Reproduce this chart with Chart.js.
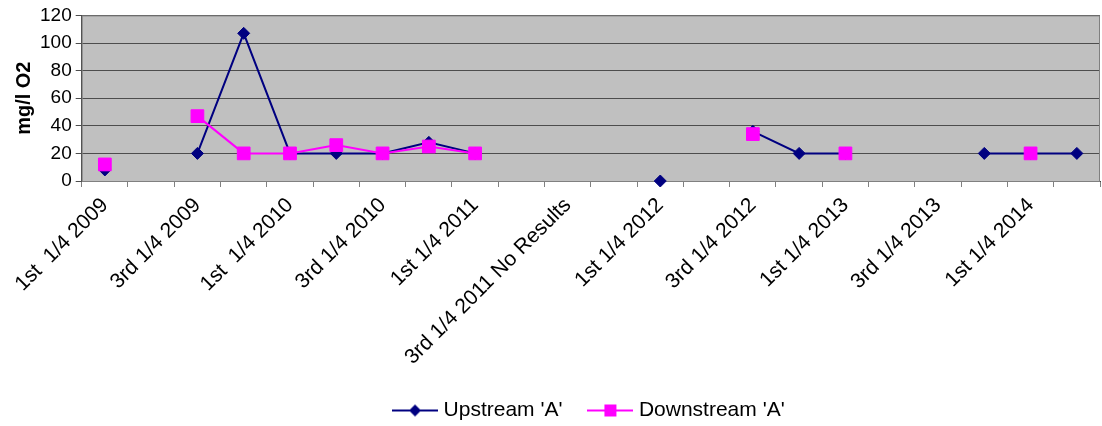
<!DOCTYPE html>
<html>
<head>
<meta charset="utf-8">
<script src="https://cdn.jsdelivr.net/npm/chart.js@4/dist/chart.umd.min.js"></script>
<style>
  html, body { margin: 0; padding: 0; background: #fff; overflow: hidden; }
  canvas { display: block; }
</style>
</head>
<body>
<canvas id="chart" width="1102" height="426"></canvas>
<script>
const quarters = [
    '1st  1/4 2009', '2nd 1/4 2009', '3rd 1/4 2009', '4th 1/4 2009',
    '1st  1/4 2010', '2nd 1/4 2010', '3rd 1/4 2010', '4th 1/4 2010',
    '1st 1/4 2011', '2nd 1/4 2011', '3rd 1/4 2011 No Results', '4th 1/4 2011',
    '1st 1/4 2012', '2nd 1/4 2012', '3rd 1/4 2012', '4th 1/4 2012',
    '1st 1/4 2013', '2nd 1/4 2013', '3rd 1/4 2013', '4th 1/4 2013',
    '1st 1/4 2014', '2nd 1/4 2014'
]

// mg/l O2, null = no sample
const upstream = [8, null, 20, 107, 20, 20, 20, 28, 20, null, null, null,
    0, null, 36, 20, 20, null, null, 20, 20, 20]
const downstream = [12, null, 47, 20, 20, 26, 20, 25, 20, null, null, null,
    null, null, 34, null, 20, null, null, null, 20, null]

const yTicks = [0, 20, 40, 60, 80, 100, 120]

const navy = '#000080'
const pink = '#ff00ff'

Chart.defaults.font.family = '"Liberation Sans", Arial, sans-serif'
Chart.defaults.color = '#000'

// little line + marker picture for the legend
function legendMark(color, shape) {
    let c = document.createElement('canvas')
    c.width = 46
    c.height = 16
    let g = c.getContext('2d')
    g.strokeStyle = color
    g.lineWidth = 2
    g.beginPath()
    g.moveTo(0, 8)
    g.lineTo(46, 8)
    g.stroke()
    g.fillStyle = color
    if (shape === 'diamond') {
        g.beginPath()
        g.moveTo(23, 2)
        g.lineTo(29, 8)
        g.lineTo(23, 14)
        g.lineTo(17, 8)
        g.closePath()
        g.fill()
    } else {
        g.fillRect(17, 2, 12, 12)
    }
    return c
}

const plotBg = {
    id: 'plotBg',
    beforeDraw(chart) {
        let a = chart.chartArea
        let ctx = chart.ctx
        ctx.save()
        ctx.fillStyle = '#c0c0c0'
        ctx.fillRect(a.left, a.top, a.width, a.height)
        ctx.restore()
    },
    beforeDatasetsDraw(chart) {
        let a = chart.chartArea
        let ctx = chart.ctx
        ctx.save()
        ctx.strokeStyle = '#808080'
        ctx.lineWidth = 1
        ctx.strokeRect(a.left + 0.5, a.top + 0.5, a.width - 1, a.height)
        ctx.restore()
    }
}

const marks = [legendMark(navy, 'diamond'), legendMark(pink, 'square')]

new Chart(document.getElementById('chart'), {
    type: 'line',
    data: {
        labels: quarters,
        datasets: [{
            label: "Upstream 'A'",
            data: upstream,
            borderColor: navy,
            backgroundColor: navy,
            borderWidth: 2,
            pointStyle: 'rectRot',
            pointRadius: 6,
            pointBorderWidth: 1,
            spanGaps: false,
            clip: false,
            order: 2
        }, {
            label: "Downstream 'A'",
            data: downstream,
            borderColor: pink,
            backgroundColor: pink,
            borderWidth: 2,
            pointStyle: 'rect',
            pointRadius: 9,
            pointBorderWidth: 1,
            spanGaps: false,
            clip: false,
            order: 1
        }]
    },
    options: {
        responsive: false,
        animation: false,
        layout: { autoPadding: false, padding: { top: 6, right: 2, left: 0, bottom: -5 } },
        plugins: {
            tooltip: { enabled: false },
            legend: {
                position: 'bottom',
                fullSize: false,
                labels: {
                    usePointStyle: true,
                    pointStyleWidth: 36,
                    padding: 30,
                    font: { size: 21 },
                    color: '#000',
                    generateLabels: (chart) => chart.data.datasets.map((ds, i) => ({
                        text: ds.label,
                        pointStyle: marks[i],
                        fillStyle: ds.borderColor,
                        strokeStyle: ds.borderColor,
                        lineWidth: 0,
                        hidden: false,
                        datasetIndex: i
                    }))
                }
            }
        },
        scales: {
            x: {
                offset: true,
                grid: { offset: true, drawOnChartArea: false, drawTicks: true, tickLength: 6, color: '#808080' },
                border: { color: '#404040' },
                ticks: {
                    autoSkip: false,
                    minRotation: 45,
                    maxRotation: 45,
                    padding: 6,
                    font: { size: 21 },
                    callback: function (v, i) {
                        return i % 2 ? '' : this.getLabelForValue(v)
                    }
                },
                afterFit: (s) => {
                    s.height = 189
                    s.paddingLeft = 0
                    s.paddingRight = 0
                }
            },
            y: {
                min: yTicks[0],
                max: yTicks[yTicks.length - 1],
                grid: { color: '#4d4d4d', tickLength: 6 },
                border: { color: '#404040' },
                ticks: { autoSkip: false, stepSize: yTicks[1] - yTicks[0], padding: 4, font: { size: 19 } },
                title: {
                    display: true,
                    text: 'mg/l O2',
                    font: { size: 20, weight: 'bold' },
                    padding: { top: 12, bottom: 0 }
                }
            }
        }
    },
    plugins: [plotBg]
})
</script>
</body>
</html>
